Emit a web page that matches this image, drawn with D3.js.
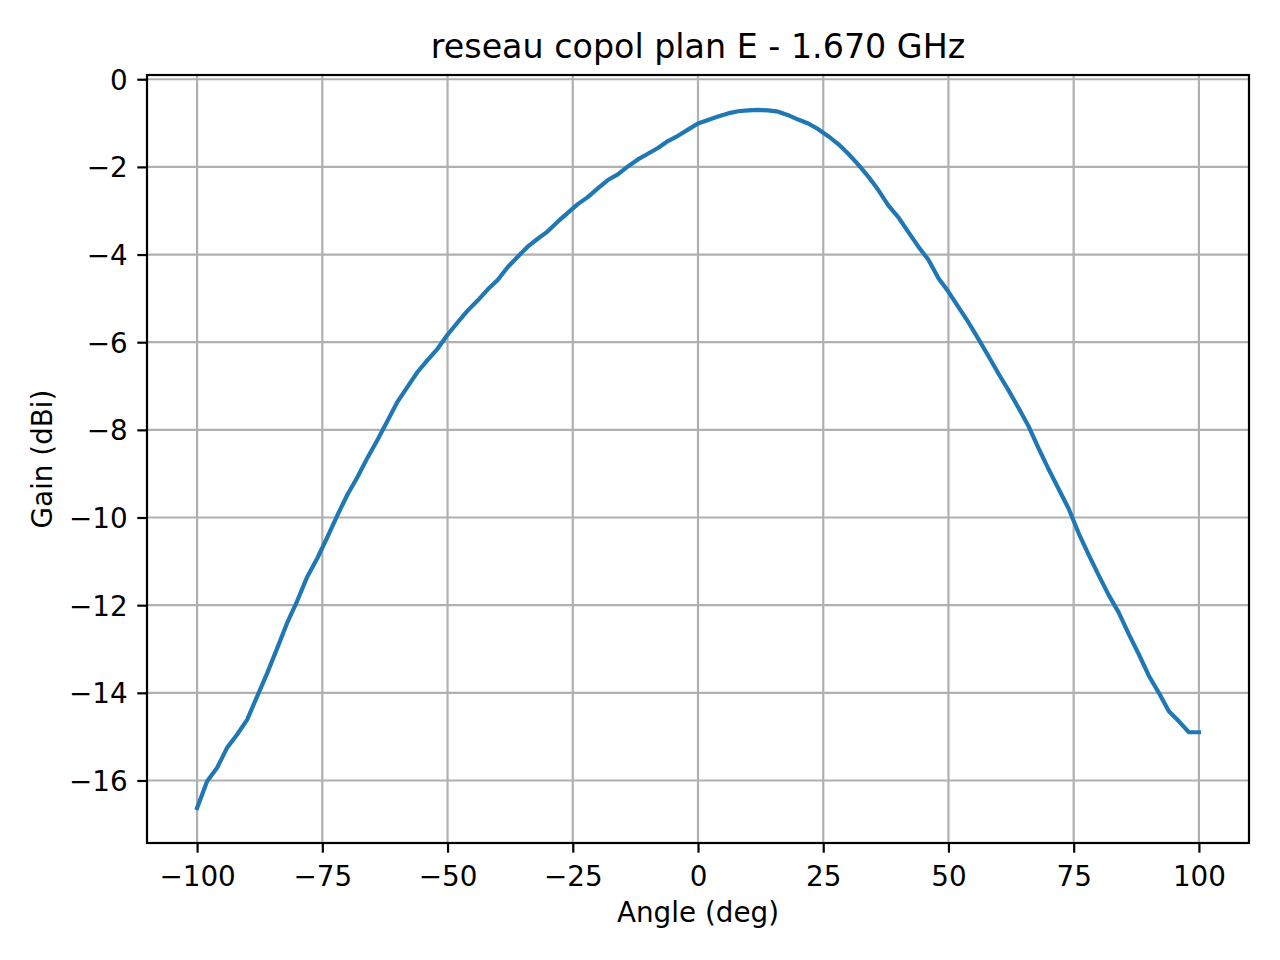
<!DOCTYPE html>
<html>
<head>
<meta charset="utf-8">
<script src="https://cdn.jsdelivr.net/npm/d3@7"></script>
<style>
  body { margin: 0; background: #fff; }
  text { font-family: "DejaVu Sans", sans-serif; fill: #000; }
</style>
</head>
<body>
<div class="chart"></div>
<script>
// measured gain pattern, read every 2 degrees
var angles = d3.range(-100, 101, 2);
var gains = [
  -16.63, -16.02, -15.71, -15.25, -14.95, -14.61, -14.08, -13.55, -12.98, -12.40,
  -11.90, -11.35, -10.93, -10.45, -9.95, -9.48, -9.08, -8.64, -8.23, -7.80,
  -7.36, -7.02, -6.68, -6.41, -6.15, -5.83, -5.55, -5.28, -5.05, -4.80,
  -4.58, -4.29, -4.05, -3.82, -3.64, -3.47, -3.25, -3.05, -2.85, -2.69,
  -2.49, -2.30, -2.17, -1.99, -1.83, -1.70, -1.57, -1.41, -1.29, -1.15,
  -1.01, -0.93, -0.85, -0.78, -0.73, -0.71, -0.70, -0.71, -0.74, -0.82,
  -0.92, -1.01, -1.14, -1.30, -1.48, -1.70, -1.95, -2.22, -2.53, -2.88,
  -3.15, -3.49, -3.82, -4.12, -4.54, -4.85, -5.20, -5.55, -5.93, -6.32,
  -6.72, -7.10, -7.50, -7.92, -8.42, -8.90, -9.35, -9.80, -10.36, -10.85,
  -11.32, -11.77, -12.17, -12.66, -13.12, -13.61, -14.00, -14.42, -14.65, -14.90,
  -14.90
];
var xTicks = [-100, -75, -50, -25, 0, 25, 50, 75, 100];
var yTicks = [-16, -14, -12, -10, -8, -6, -4, -2, 0];

var W = 1280, H = 960;
var margin = {left: 147, right: 1249, top: 75, bottom: 843};

var svg = d3.select(".chart").append("svg")
  .attr("width", W)
  .attr("height", H);

var data = angles.map(function(a, i) { return {a: a, g: gains[i]}; });

// matplotlib style 5% margins
var ext = d3.extent(gains);
var pad = (ext[1] - ext[0]) * 0.05;
var xpad = (d3.max(angles) - d3.min(angles)) * 0.05;

var x = d3.scaleLinear()
  .domain([d3.min(angles) - xpad, d3.max(angles) + xpad])
  .range([margin.left, margin.right]);
var y = d3.scaleLinear()
  .domain([ext[0] - pad, ext[1] + pad])
  .range([margin.bottom, margin.top]);

// grid
svg.append("g").selectAll("line").data(xTicks).enter().append("line")
  .attr("x1", function(d) { return x(d); })
  .attr("x2", function(d) { return x(d); })
  .attr("y1", margin.top).attr("y2", margin.bottom)
  .attr("stroke", "#b0b0b0").attr("stroke-width", 2.2);
svg.append("g").selectAll("line").data(yTicks).enter().append("line")
  .attr("y1", function(d) { return y(d); })
  .attr("y2", function(d) { return y(d); })
  .attr("x1", margin.left).attr("x2", margin.right)
  .attr("stroke", "#b0b0b0").attr("stroke-width", 2.2);

// curve
var line = d3.line()
  .x(function(d) { return x(d.a); })
  .y(function(d) { return y(d.g); });

svg.append("path")
  .datum(data)
  .attr("d", line)
  .attr("fill", "none")
  .attr("stroke", "#1f77b4")
  .attr("stroke-width", 4.2)
  .attr("stroke-linejoin", "round")
  .attr("stroke-linecap", "square");

// axes
var fmt = d3.format("d");
var xAxis = svg.append("g")
  .attr("transform", "translate(0," + margin.bottom + ")")
  .call(d3.axisBottom(x).tickValues(xTicks).tickFormat(fmt).tickSize(9.7).tickPadding(9.7));
var yAxis = svg.append("g")
  .attr("transform", "translate(" + margin.left + ",0)")
  .call(d3.axisLeft(y).tickValues(yTicks).tickFormat(fmt).tickSize(9.7).tickPadding(9.7));

[xAxis, yAxis].forEach(function(ax) {
  ax.select(".domain").remove();
  ax.selectAll(".tick line").attr("stroke", "#000").attr("stroke-width", 2.2);
  ax.selectAll(".tick text")
    .style("font-family", "DejaVu Sans")
    .style("font-size", "27.8px")
    .attr("fill", "#000");
});
xAxis.selectAll(".tick text").attr("dy", null).attr("y", 43);
yAxis.selectAll(".tick text").attr("dy", "0.36em");

// spines
svg.append("rect")
  .attr("x", margin.left).attr("y", margin.top)
  .attr("width", margin.right - margin.left).attr("height", margin.bottom - margin.top)
  .attr("fill", "none")
  .attr("stroke", "#000")
  .attr("stroke-width", 2.2);

// labels
svg.append("text")
  .attr("x", (margin.left + margin.right) / 2).attr("y", 58)
  .attr("text-anchor", "middle")
  .style("font-size", "33.3px")
  .text("reseau copol plan E - 1.670 GHz");

svg.append("text")
  .attr("x", (margin.left + margin.right) / 2).attr("y", 922)
  .attr("text-anchor", "middle")
  .style("font-size", "27.8px")
  .text("Angle (deg)");

svg.append("text")
  .attr("transform", "translate(52," + (margin.top + margin.bottom) / 2 + ") rotate(-90)")
  .attr("text-anchor", "middle")
  .style("font-size", "27.8px")
  .text("Gain (dBi)");
</script>
</body>
</html>
